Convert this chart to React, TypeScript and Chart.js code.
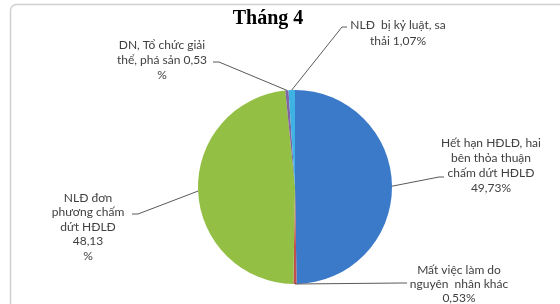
import React, { useEffect, useRef } from "react";
import { Chart, registerables } from "chart.js";

Chart.register(...registerables);

const title = "Tháng 4";
const categories = [
  "Hết hạn HĐLĐ, hai bên thỏa thuận chấm dứt HĐLĐ",
  "Mất việc làm do nguyên nhân khác",
  "NLĐ đơn phương chấm dứt HĐLĐ",
  "DN, Tổ chức giải thể, phá sản",
  "NLĐ bị kỷ luật, sa thải",
];
const values = [49.73, 0.53, 48.13, 0.53, 1.07];
const colors = ["#3b7ac8", "#c0504d", "#93bf45", "#8064a2", "#3eb2e2"];

const fmt = (v: number) => v.toFixed(2).replace(".", ",");
const labelLines: string[][] = [
  ["Hết hạn HĐLĐ, hai", "bên thỏa thuận", "chấm dứt HĐLĐ", fmt(values[0]) + "%"],
  ["Mất việc làm do", "nguyên  nhân khác", fmt(values[1]) + "%"],
  ["NLĐ đơn", "phương chấm", "dứt HĐLĐ", fmt(values[2]), "%"],
  ["DN, Tổ chức giải", "thể, phá sản " + fmt(values[3]), "%"],
  ["NLĐ  bị kỷ luật, sa", "thải " + fmt(values[4]) + "%"],
];

// layout of the callout labels: text centre x, first line y, line height, leader end, tick end
const labelLayout = [
  { cx: 491, y0: 143, lh: 15, ex: 439, ey: 177, tx: 444 },
  { cx: 459, y0: 270, lh: 14, ex: 402, ey: 283, tx: 407 },
  { cx: 88, y0: 198, lh: 14.5, ex: 138, ey: 214, tx: 132 },
  { cx: 162, y0: 45, lh: 15, ex: 219, ey: 62, tx: 213 },
  { cx: 398, y0: 25, lh: 16, ex: 342, ey: 27, tx: 347 },
];

const calloutPlugin = {
  id: "callouts",
  beforeDraw(chart: any) {
    const ctx = chart.ctx;
    ctx.save();
    ctx.fillStyle = "#ffffff";
    ctx.fillRect(0, 0, chart.width, chart.height);
    ctx.strokeStyle = "#d0d0d0";
    ctx.lineWidth = 1.5;
    ctx.beginPath();
    ctx.roundRect(10.5, 4.5, chart.width + 20, chart.height + 20, 6);
    ctx.stroke();
    ctx.restore();
  },
  afterDraw(chart: any) {
    const ctx = chart.ctx;
    const meta = chart.getDatasetMeta(0);
    ctx.save();
    // title
    ctx.fillStyle = "#000000";
    ctx.font = "bold 20px 'Liberation Serif', serif";
    ctx.textAlign = "center";
    ctx.textBaseline = "middle";
    ctx.fillText(title, 268, 19);

    meta.data.forEach((arc: any, i: number) => {
      const p = arc.getProps(["x", "y", "startAngle", "endAngle", "outerRadius"], true);
      const mid = (p.startAngle + p.endAngle) / 2;
      const ax = p.x + Math.cos(mid) * p.outerRadius;
      const ay = p.y + Math.sin(mid) * p.outerRadius;
      const L = labelLayout[i];
      ctx.strokeStyle = "#5a5a5a";
      ctx.lineWidth = 1;
      ctx.beginPath();
      ctx.moveTo(ax, ay);
      ctx.lineTo(L.ex, L.ey);
      ctx.lineTo(L.tx, L.ey);
      ctx.stroke();
      ctx.fillStyle = "#404040";
      ctx.font = "12px Lato, 'Open Sans', sans-serif";
      ctx.textAlign = "center";
      ctx.textBaseline = "middle";
      labelLines[i].forEach((line, k) => {
        ctx.fillText(line, L.cx, L.y0 + k * L.lh);
      });
    });
    ctx.restore();
  },
};

export default function App() {
  const ref = useRef<HTMLCanvasElement>(null);
  useEffect(() => {
    if (!ref.current) return;
    const chart = new Chart(ref.current, {
      type: "pie",
      data: {
        labels: categories,
        datasets: [
          {
            data: values,
            backgroundColor: colors,
            borderWidth: 0,
          },
        ],
      },
      options: {
        animation: false,
        responsive: false,
        maintainAspectRatio: false,
        rotation: 0,
        layout: { padding: { left: 198, right: 168, top: 90, bottom: 20 } },
        plugins: {
          legend: { display: false },
          tooltip: { enabled: false },
          title: { display: false },
        },
      },
      plugins: [calloutPlugin],
    });
    return () => chart.destroy();
  }, []);
  return (
    <div style={{ position: "fixed", left: 0, top: 0, width: 560, height: 304, background: "#fff" }}>
      <canvas ref={ref} width={560} height={304} style={{ width: 560, height: 304 }} />
    </div>
  );
}
